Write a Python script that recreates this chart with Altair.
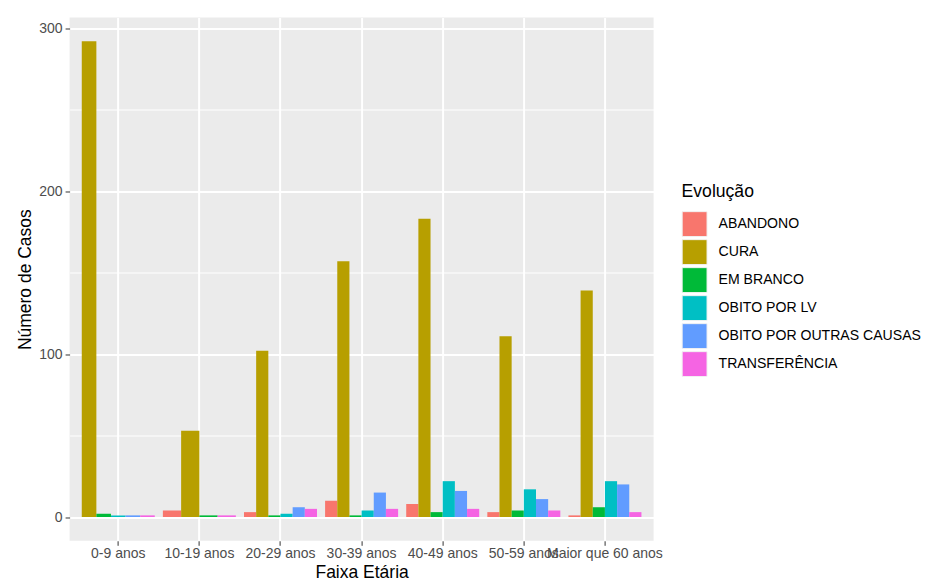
import altair as alt
import pandas as pd

faixas = ["0-9 anos", "10-19 anos", "20-29 anos", "30-39 anos",
          "40-49 anos", "50-59 anos", "Maior que 60 anos"]
evolucoes = ["ABANDONO", "CURA", "EM BRANCO", "OBITO POR LV",
             "OBITO POR OUTRAS CAUSAS", "TRANSFERÊNCIA"]
cores = ["#F8766D", "#B79F00", "#00BA38", "#00BFC4", "#619CFF", "#F564E3"]

# None = category absent in that age group
abandono = [None, 4, 3, 10, 8, 3, 1]
cura = [292, 53, 102, 157, 183, 111, 139]
em_branco = [2, 1, 1, 1, 3, 4, 6]
obito_lv = [1, None, 2, 4, 22, 17, 22]
obito_outras = [1, None, 6, 15, 16, 11, 20]
transferencia = [1, 1, 5, 5, 5, 4, 3]

series = [abandono, cura, em_branco, obito_lv, obito_outras, transferencia]
rows = []
for ev, vals in zip(evolucoes, series):
    for fx, v in zip(faixas, vals):
        if v is not None:
            rows.append({"Faixa": fx, "Evolucao": ev, "Casos": v})
df = pd.DataFrame(rows)

font = "Liberation Sans"
major = "datum.value % 100 === 0"

base = alt.Chart(df).mark_bar().encode(
    x=alt.X("Faixa:N",
            scale=alt.Scale(domain=faixas, paddingInner=0.1, paddingOuter=0.15),
            axis=alt.Axis(title="Faixa Etária", grid=True, gridColor="white",
                          gridWidth=2, bandPosition=0.5, labelAngle=0,
                          labelOverlap=False, labelFontSize=14,
                          labelColor="#4D4D4D", tickColor="#333333",
                          tickSize=4.5, labelPadding=1.5, titlePadding=3,
                          titleFontSize=17.5, titleFontWeight="normal",
                          titleColor="black", domain=False)),
    xOffset=alt.XOffset("Evolucao:N",
                        scale=alt.Scale(paddingInner=0, paddingOuter=0)),
    y=alt.Y("Casos:Q", stack=None,
            scale=alt.Scale(domain=[-14.6, 306.6], nice=False, zero=False),
            axis=alt.Axis(title="Número de Casos",
                          values=[0, 50, 100, 150, 200, 250, 300],
                          labelExpr=f"{major} ? datum.label : ''",
                          gridColor="white",
                          gridWidth={"condition": {"test": major, "value": 2}, "value": 1},
                          tickOpacity={"condition": {"test": major, "value": 1}, "value": 0},
                          labelFontSize=14, labelColor="#4D4D4D",
                          tickColor="#333333", tickSize=4.5, labelPadding=3,
                          titlePadding=4, titleFontSize=17.5,
                          titleFontWeight="normal", titleColor="black",
                          domain=False)),
    y2=alt.datum(0),
    color=alt.Color("Evolucao:N",
                    scale=alt.Scale(domain=evolucoes, range=cores),
                    legend=alt.Legend(title="Evolução", orient="none",
                                      legendX=612, legendY=166,
                                      symbolType="square", symbolSize=620,
                                      symbolStrokeColor="#F2F2F2",
                                      symbolStrokeWidth=1, symbolOpacity=1,
                                      labelFontSize=14.1, labelColor="black",
                                      labelOffset=11, labelLimit=400,
                                      titleFontSize=17.6,
                                      titleFontWeight="normal",
                                      titleColor="black", titlePadding=10,
                                      rowPadding=-2.6, padding=0)),
)

layers = [base.transform_filter(alt.datum.Faixa == fx) for fx in faixas]

chart = alt.layer(*layers).resolve_scale(xOffset="independent").properties(
    width=584, height=523.3,
    padding={"left": 61.6, "top": 9.5, "right": 269, "bottom": 44},
    autosize=alt.AutoSizeParams(type="none"),
    background="white",
).configure(font=font).configure_view(fill="#EBEBEB", stroke=None)

chart.save("out.html", embed_options={"renderer": "svg", "actions": False})
